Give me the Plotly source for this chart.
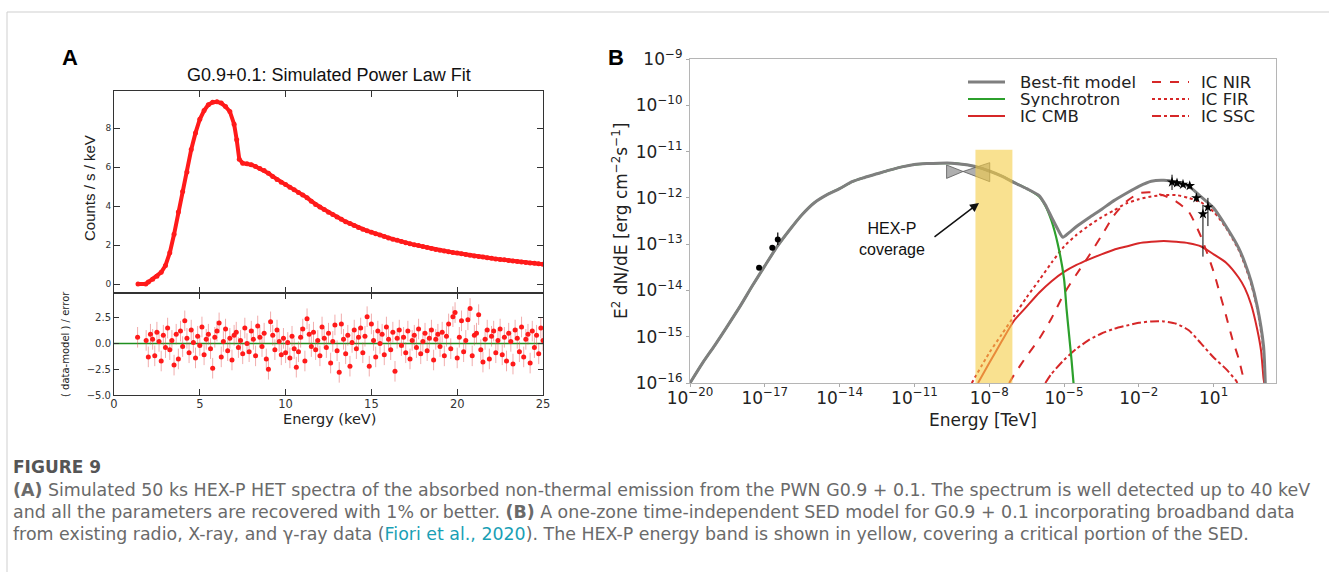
import numpy as np
import plotly.graph_objects as go

W, H = 1329, 572

# ---------------- Panel A : simulated spectrum ----------------
SPEC_E = [1.4, 1.85, 2.0, 2.25, 2.5, 2.75, 3.0, 3.25, 3.5, 3.75, 4.0, 4.25, 4.5, 4.75,
          5.0, 5.25, 5.5, 5.75, 6.0, 6.25, 6.5, 6.75, 7.0, 7.15, 7.3, 7.5, 7.75, 8.0,
          8.25, 8.5, 8.75, 9.0, 9.25, 9.5, 9.75, 10.0, 10.25, 10.5, 10.75, 11.0, 11.25,
          11.5, 11.75, 12.0, 12.25, 12.5, 12.75, 13.0, 13.25, 13.5, 13.75, 14.0, 14.25,
          14.5, 14.75, 15.0, 15.25, 15.5, 15.75, 16.0, 16.25, 16.5, 16.75, 17.0, 17.25,
          17.5, 17.75, 18.0, 18.25, 18.5, 18.75, 19.0, 19.25, 19.5, 19.75, 20.0, 20.25,
          20.5, 20.75, 21.0, 21.25, 21.5, 21.75, 22.0, 22.25, 22.5, 22.75, 23.0, 23.25,
          23.5, 23.75, 24.0, 24.25, 24.5, 24.75, 25.0]
SPEC_COUNTS = [0.0, 0.0, 0.1, 0.25, 0.4, 0.6, 0.95, 1.6, 2.55, 3.7, 4.75, 5.75, 6.9, 7.75,
               8.45, 8.9, 9.2, 9.32, 9.35, 9.28, 9.1, 8.85, 8.2, 7.4, 6.4, 6.2, 6.17, 6.12,
               6.03, 5.93, 5.82, 5.68, 5.52, 5.36, 5.22, 5.1, 4.97, 4.84, 4.7, 4.57, 4.43,
               4.25, 4.08, 3.95, 3.82, 3.68, 3.56, 3.44, 3.32, 3.2, 3.1, 3.0, 2.9,
               2.81, 2.73, 2.66, 2.58, 2.51, 2.44, 2.36, 2.3, 2.25, 2.18, 2.12, 2.06,
               2.01, 1.97, 1.92, 1.87, 1.82, 1.77, 1.73, 1.69, 1.66, 1.62, 1.59, 1.55,
               1.51, 1.47, 1.44, 1.41, 1.38, 1.35, 1.32, 1.29, 1.26, 1.24, 1.21, 1.18,
               1.16, 1.13, 1.1, 1.08, 1.06, 1.04, 1.02]

# residual channel grid (keV) and residual values (data-model)/error
RES_E_START = 1.375
RES_E_STEP = 0.125
RES_VALUES = [0.6, None, None, None,
              0.3, -1.3, 0.9, 0.4, -1.2, 1.1, 0.2, -1.7, 0.8, -0.4,
              1.5, -0.6, 0.3, -2.1, 0.9, -1.5, 1.2, -0.3, 2.2, 0.5,
              -0.9, 1.3, 0.1, -1.4, 0.7, -0.2, 1.6, -1.1, 0.4, 0.9,
              -0.5, -2.4, 0.6, 1.2, 2.0, -1.3, 0.2, 1.4, -0.7, 0.5,
              -1.6, 0.8, 1.1, -0.4, 0.3, -1.0, 1.5, 0.0, -0.8, 1.2,
              0.4, -1.2, 1.7, 0.6, -0.3, 1.0, -1.5, -2.5, 2.1, 0.8,
              -0.6, 1.3, 0.2, -1.1, 0.5, -0.9, 0.1, -1.4, 0.7, -0.5,
              -2.3, -0.8, 0.6, 1.4, -1.7, 2.4, 0.9, -0.3, 1.1, -0.6,
              0.3, -1.2, 1.6, 0.5, -0.4, 1.0, -1.9, 0.2, 1.8, -0.7,
              -2.8, 1.9, 0.4, -1.0, 0.8, -2.2, 0.1, 1.3, -0.5, 0.6,
              1.5, -0.9, 0.7, 2.6, -2.2, 1.9, 0.3, -1.3, 1.2, 0.0,
              0.9, -1.1, 1.6, 0.4, -0.6, 1.1, -2.7, 0.5, 1.3, -0.2,
              0.6, -0.9, 1.2, -1.5, 0.3, 0.8, -0.4, 1.4, -1.0, 0.2,
              1.0, -0.7, 0.5, 1.3, -1.6, 0.4, 0.9, -0.3, 1.1, -1.2,
              0.7, 1.9, -0.5, 2.6, 3.0, -1.4, 0.6, 2.2, -0.8, 0.3,
              2.3, 3.4, -1.2, 0.8, 1.0, 2.8, -0.6, -1.8, 0.4, 1.3,
              -1.5, 0.7, 1.2, -0.9, 0.3, 1.4, -1.1, 0.6, -1.7, 1.0,
              0.2, -2.0, 1.3, 0.5, -0.8, 1.6, -1.3, 0.4, 0.9, -1.9,
              1.2, -0.4, 0.8, -1.0, 1.5, 0.3]
RES_ERR = 1.0
RES_E = [RES_E_START + i * RES_E_STEP for i in range(len(RES_VALUES))]

A_X_TICKS = [0, 5, 10, 15, 20, 25]
A_Y_TICKS = [0, 2, 4, 6, 8]
R_Y_TICKS = [2.5, 0.0, -2.5, -5.0]
R_Y_TEXT = ["2.5", "0.0", "\u22122.5", "\u22125.0"]

# ---------------- Panel B : SED (log10 values) ----------------
BEST_LOGE = [-20, -19.5, -19, -18.5, -18, -17.5, -17, -16.5, -16, -15.5, -15, -14.5, -14,
             -13.5, -13, -12.5, -12, -11.5, -11, -10.5, -10, -9.5, -9, -8.5, -8, -7.5,
             -7, -6.5, -6, -5.75, -5.5, -5.25, -5.05, -4.8, -4.5, -4, -3.5, -3, -2.5,
             -2, -1.5, -1, -0.5, 0, 0.5, 1, 1.5, 2, 2.25, 2.5, 2.75, 3.0, 3.07]
BEST_LOGF = [-16.0, -15.57, -15.18, -14.77, -14.35, -13.9, -13.47, -13.05, -12.69, -12.36,
             -12.1, -11.93, -11.8, -11.65, -11.56, -11.48, -11.4, -11.33, -11.28, -11.26,
             -11.25, -11.25, -11.28, -11.33, -11.42, -11.53, -11.67, -11.8, -11.95, -12.15,
             -12.42, -12.68, -12.85, -12.75, -12.62, -12.43, -12.25, -12.06, -11.9, -11.75,
             -11.64, -11.62, -11.66, -11.75, -11.98, -12.22, -12.62, -13.08, -13.4, -13.8,
             -14.35, -15.2, -16.0]

SYN_LOGE = [-20, -19.5, -19, -18.5, -18, -17.5, -17, -16.5, -16, -15.5, -15, -14.5, -14,
            -13.5, -13, -12.5, -12, -11.5, -11, -10.5, -10, -9.5, -9, -8.5, -8, -7.5,
            -7, -6.5, -6, -5.75, -5.5, -5.25, -5.0, -4.9, -4.8, -4.7, -4.62]
SYN_LOGF = [-16.0, -15.57, -15.18, -14.77, -14.35, -13.9, -13.47, -13.05, -12.69, -12.36,
            -12.1, -11.93, -11.8, -11.65, -11.56, -11.48, -11.4, -11.33, -11.28, -11.26,
            -11.25, -11.25, -11.28, -11.33, -11.42, -11.53, -11.67, -11.8, -11.97, -12.17,
            -12.5, -13.0, -13.75, -14.4, -14.95, -15.5, -16.0]

CMB_LOGE = [-8.45, -8, -7.5, -7, -6.5, -6, -5.5, -5, -4.5, -4, -3.5, -3, -2.5, -2, -1.5,
            -1, -0.5, 0, 0.5, 1, 1.5, 2, 2.25, 2.5, 2.75, 2.9, 3.0, 3.03]
CMB_LOGF = [-16.0, -15.57, -15.1, -14.65, -14.35, -14.05, -13.8, -13.6, -13.45, -13.33,
            -13.22, -13.12, -13.05, -12.98, -12.95, -12.93, -12.95, -12.98, -13.05, -13.22,
            -13.4, -13.72, -13.95, -14.3, -14.85, -15.3, -15.9, -16.0]

NIR_LOGE = [-7.2, -7, -6.5, -6, -5.5, -5, -4.5, -4, -3.5, -3, -2.5, -2, -1.5, -1, -0.5,
            0, 0.5, 1.0, 1.25, 1.5, 1.75, 2.0, 2.24]
NIR_LOGF = [-16.0, -15.82, -15.42, -15.05, -14.6, -14.07, -13.65, -13.25, -12.82, -12.38,
            -12.08, -11.9, -11.88, -11.95, -12.08, -12.3, -12.85, -13.6, -14.07, -14.55,
            -15.05, -15.47, -16.0]

FIR_LOGE = [-8.7, -8, -7.5, -7, -6.5, -6, -5.5, -5, -4.5, -4, -3.5, -3, -2.5, -2, -1.5,
            -1, -0.5, 0, 0.5, 1.0, 1.5, 2.0, 2.25, 2.5, 2.75, 3.0, 3.05]
FIR_LOGF = [-16.0, -15.35, -14.95, -14.55, -14.15, -13.78, -13.4, -13.05, -12.8, -12.6,
            -12.42, -12.27, -12.12, -12.03, -11.97, -11.94, -11.94, -12.0, -12.1, -12.3,
            -12.65, -13.12, -13.45, -13.85, -14.4, -15.3, -16.0]

SSC_LOGE = [-5.75, -5.5, -5, -4.5, -4, -3.5, -3, -2.5, -2, -1.5, -1, -0.5, 0, 0.5, 1.0,
            1.5, 1.9, 1.95]
SSC_LOGF = [-16.0, -15.8, -15.5, -15.26, -15.07, -14.93, -14.83, -14.76, -14.7, -14.67,
            -14.67, -14.72, -14.86, -15.15, -15.45, -15.7, -15.95, -16.0]

RADIO_LOGE = [-17.23, -16.7, -16.48]
RADIO_LOGF = [-13.51, -13.08, -12.9]
RADIO_LOGF_HI = [-13.47, -13.03, -12.75]
RADIO_LOGF_LO = [-13.55, -13.13, -13.02]

GAMMA_LOGE = [-0.67, -0.47, -0.23, 0.04, 0.31, 0.57, 0.77]
GAMMA_LOGF = [-11.66, -11.68, -11.71, -11.74, -12.0, -12.35, -12.2]
GAMMA_LOGF_HI = [-11.5, -11.62, -11.66, -11.69, -11.93, -12.15, -12.0]
GAMMA_LOGF_LO = [-11.83, -11.75, -11.77, -11.8, -12.08, -13.27, -12.61]

# X-ray bowtie (log E edges, pivot; log flux at edges)
BOW_LOGE = [-9.71, -9.05, -7.98]
BOW_LOGF_LEFT = [-11.29, -11.58]
BOW_LOGF_PIVOT = -11.43
BOW_LOGF_RIGHT = [-11.24, -11.65]

HEXP_E = [2.8e-9, 8.5e-8]
HEXP_F = [1e-16, 1.1e-11]

B_X_TICKS = [-20, -17, -14, -11, -8, -5, -2, 1]
B_Y_TICKS = [-16, -15, -14, -13, -12, -11, -10, -9]

RED = "#d62728"
GREEN = "#2ca02c"
GRAY = "#7f7f7f"


def p10(a):
    return [10.0 ** v for v in a]


def px(x):
    return x / W


def py(y):
    return 1 - y / H


def sup_label(e):
    s = str(e).replace("-", "\u2212")
    return "10<sup>" + s + "</sup>"


fig = go.Figure()

# ---- Panel A traces ----
fig.add_trace(go.Scatter(x=SPEC_E, y=SPEC_COUNTS, mode="lines+markers",
                         line=dict(color="#ff1a1a", width=4),
                         marker=dict(color="#ff1a1a", size=5),
                         xaxis="x", yaxis="y", showlegend=False))

fig.add_trace(go.Scatter(x=[0, 25], y=[0, 0], mode="lines",
                         line=dict(color="#1f8f1f", width=1.5),
                         xaxis="x2", yaxis="y2", showlegend=False))
fig.add_trace(go.Scatter(x=RES_E, y=RES_VALUES, mode="markers",
                         marker=dict(color="#ff1a1a", size=5),
                         error_y=dict(type="constant", value=RES_ERR,
                                      color="rgba(225,70,70,0.45)", thickness=1, width=0),
                         xaxis="x2", yaxis="y2", showlegend=False))

# ---- Panel B traces ----
def add_line(loge, logf, color, dash, width):
    fig.add_trace(go.Scatter(x=p10(loge), y=p10(logf), mode="lines",
                             line=dict(color=color, dash=dash, width=width, shape="spline",
                                       smoothing=0.6),
                             xaxis="x3", yaxis="y3", showlegend=False))


add_line(SSC_LOGE, SSC_LOGF, RED, "dashdot", 2)
add_line(FIR_LOGE, FIR_LOGF, RED, "dot", 2)
add_line(NIR_LOGE, NIR_LOGF, RED, "dash", 2)
add_line(CMB_LOGE, CMB_LOGF, RED, "solid", 2)
add_line(SYN_LOGE, SYN_LOGF, GREEN, "solid", 2.2)
add_line(BEST_LOGE, BEST_LOGF, GRAY, "solid", 3)

# bowtie
bx = p10([BOW_LOGE[0], BOW_LOGE[1], BOW_LOGE[2], BOW_LOGE[2], BOW_LOGE[1], BOW_LOGE[0], BOW_LOGE[0]])
by = p10([BOW_LOGF_LEFT[0], BOW_LOGF_PIVOT, BOW_LOGF_RIGHT[0], BOW_LOGF_RIGHT[1],
          BOW_LOGF_PIVOT, BOW_LOGF_LEFT[1], BOW_LOGF_LEFT[0]])
fig.add_trace(go.Scatter(x=bx, y=by, mode="lines", fill="toself",
                         fillcolor="rgba(110,110,110,0.55)",
                         line=dict(color="rgba(90,90,90,0.8)", width=1),
                         xaxis="x3", yaxis="y3", showlegend=False))

# data points
rf = np.array(p10(RADIO_LOGF))
fig.add_trace(go.Scatter(x=p10(RADIO_LOGE), y=rf, mode="markers",
                         marker=dict(color="black", size=6),
                         error_y=dict(type="data", array=np.array(p10(RADIO_LOGF_HI)) - rf,
                                      arrayminus=rf - np.array(p10(RADIO_LOGF_LO)),
                                      color="black", thickness=1.2, width=0),
                         xaxis="x3", yaxis="y3", showlegend=False))
gf = np.array(p10(GAMMA_LOGF))
fig.add_trace(go.Scatter(x=p10(GAMMA_LOGE), y=gf, mode="markers",
                         marker=dict(color="black", size=8, symbol="star"),
                         error_y=dict(type="data", array=np.array(p10(GAMMA_LOGF_HI)) - gf,
                                      arrayminus=gf - np.array(p10(GAMMA_LOGF_LO)),
                                      color="black", thickness=1, width=0),
                         xaxis="x3", yaxis="y3", showlegend=False))

# HEX-P band (drawn on top, translucent)
fig.add_trace(go.Scatter(x=[HEXP_E[0], HEXP_E[1], HEXP_E[1], HEXP_E[0], HEXP_E[0]],
                         y=[HEXP_F[0], HEXP_F[0], HEXP_F[1], HEXP_F[1], HEXP_F[0]],
                         mode="lines", fill="toself", fillcolor="rgba(245,205,70,0.6)",
                         line=dict(width=0), hoverinfo="skip",
                         xaxis="x3", yaxis="y3", showlegend=False))

# ---- Axes ----
A_DOM = [px(114), px(543)]
tickfontA = dict(family="DejaVu Sans", size=9, color="#333")
common = dict(showgrid=False, zeroline=False, automargin=False)
fig.update_layout(
    xaxis=dict(domain=A_DOM, range=[0, 25], anchor="y", tickvals=A_X_TICKS,
               showticklabels=False, ticks="inside", ticklen=6, tickcolor="#333",
               showline=True, linecolor="#333", linewidth=1, mirror="ticks", **common),
    yaxis=dict(domain=[py(293), py(91)], range=[-0.46, 9.9], anchor="x",
               tickvals=A_Y_TICKS, tickfont=tickfontA, ticks="inside", ticklen=6,
               tickcolor="#333", showline=True, linecolor="#333", linewidth=1,
               mirror="ticks", **common),
    xaxis2=dict(domain=A_DOM, range=[0, 25], anchor="y2", tickvals=A_X_TICKS,
                tickfont=dict(family="DejaVu Sans", size=11.5, color="#333"),
                ticks="inside", ticklen=6, tickcolor="#333", ticklabelstandoff=-2,
                showline=True, linecolor="#333", linewidth=1, mirror="ticks", **common),
    yaxis2=dict(domain=[py(395), py(293)], range=[-5, 4.9], anchor="x2",
                tickvals=R_Y_TICKS, ticktext=R_Y_TEXT,
                tickfont=dict(family="DejaVu Sans", size=10, color="#333"),
                ticks="inside", ticklen=5, tickcolor="#333", showline=True,
                linecolor="#333", linewidth=1, mirror="ticks", **common),
    xaxis3=dict(domain=[px(690), px(1276)], type="log", range=[-20, 3.5], anchor="y3",
                tickvals=p10(B_X_TICKS), ticktext=[sup_label(v) for v in B_X_TICKS],
                tickfont=dict(family="DejaVu Sans", size=17, color="#222"),
                ticks="outside", ticklen=3, tickcolor="#aaa", ticklabelstandoff=-4,
                showline=True, linecolor="#b5b5b5", linewidth=1.2, mirror=True, **common),
    yaxis3=dict(domain=[py(383), py(59)], type="log", range=[-16, -9], anchor="x3",
                tickvals=p10(B_Y_TICKS), ticktext=[sup_label(v) for v in B_Y_TICKS],
                tickfont=dict(family="DejaVu Sans", size=17, color="#222"),
                ticks="outside", ticklen=3, tickcolor="#aaa",
                showline=True, linecolor="#b5b5b5", linewidth=1.2, mirror=True, **common),
)

# ---- Annotations (text) ----
ann = []


def text(x, y, s, size, family, color="#222", xanchor="center", angle=0, bold=False,
         height=None):
    if bold:
        s = "<b>" + s + "</b>"
    a = dict(x=px(x), y=py(y), xref="paper", yref="paper", text=s, showarrow=False,
             xanchor=xanchor, yanchor="middle", textangle=angle,
             font=dict(size=size, family=family, color=color))
    if height is not None:
        a["height"] = height
        a["borderpad"] = 0
    ann.append(a)


text(70, 57, "A", 22, "Liberation Sans", "#000", bold=True)
text(616, 57, "B", 22, "Liberation Sans", "#000", bold=True)
text(329, 75, "G0.9+0.1: Simulated Power Law Fit", 18, "Liberation Sans", "#111")
text(90, 188, "Counts / s / keV", 15, "Liberation Sans", "#222", angle=-90)
text(65, 344, "( data-model ) / error", 10, "DejaVu Sans", "#222", angle=-90)
text(329, 419, "Energy (keV)", 14.5, "DejaVu Sans", "#222")
text(620, 221, "E<sup>2</sup> dN/dE [erg cm<sup>\u22122</sup>s<sup>\u22121</sup>]", 17,
     "DejaVu Sans", "#222", angle=-90)
text(983, 420, "Energy [TeV]", 17, "DejaVu Sans", "#222")
text(892, 239, "HEX-P<br>coverage", 16, "Liberation Sans", "#111")

# arrow
ann.append(dict(x=px(979), y=py(203), xref="paper", yref="paper", text="", showarrow=True,
                ax=933 - 979, ay=238 - 203, arrowhead=2, arrowsize=1.2, arrowwidth=1.5,
                arrowcolor="#111"))

# legend (manual, two columns)
LEG = [("Best-fit model", GRAY, "solid", 3, 968, 1019, 82),
       ("Synchrotron", GREEN, "solid", 2.2, 968, 1019, 99),
       ("IC CMB", RED, "solid", 2, 968, 1019, 116),
       ("IC NIR", RED, "dash", 2, 1152, 1200, 82),
       ("IC FIR", RED, "dot", 2, 1152, 1200, 99),
       ("IC SSC", RED, "dashdot", 2, 1152, 1200, 116)]
shapes = []
for name, col, dash, wd, x0, tx, yy in LEG:
    shapes.append(dict(type="line", xref="paper", yref="paper", x0=px(x0), x1=px(x0 + 37),
                       y0=py(yy), y1=py(yy), line=dict(color=col, dash=dash, width=wd)))
    text(tx, yy, name, 16.5, "DejaVu Sans", "#222", xanchor="left", height=16)

# card border
shapes.append(dict(type="line", xref="paper", yref="paper", x0=px(7), x1=1, y0=py(12),
                   y1=py(12), line=dict(color="#cfcfcf", width=1)))
shapes.append(dict(type="line", xref="paper", yref="paper", x0=px(7), x1=px(7), y0=py(12),
                   y1=0, line=dict(color="#cfcfcf", width=1)))

# caption
CAP_COLOR = "#6a6a6a"
LINK = "#1a9fb5"
CAP_FONT = "DejaVu Sans"
CAP_SIZE = 17.4
text(11, 467, "FIGURE 9", 17, CAP_FONT, "#555", xanchor="left", bold=True)
text(11, 490, "<b>(A)</b> Simulated 50 ks HEX-P HET spectra of the absorbed non-thermal "
     "emission from the PWN G0.9 + 0.1. The spectrum is well detected up to 40 keV",
     CAP_SIZE, CAP_FONT, CAP_COLOR, xanchor="left")
text(11, 512, "and all the parameters are recovered with 1% or better. <b>(B)</b> A one-zone "
     "time-independent SED model for G0.9 + 0.1 incorporating broadband data",
     CAP_SIZE, CAP_FONT, CAP_COLOR, xanchor="left")
text(11, 534, "from existing radio, X-ray, and \u03b3-ray data (<span style='color:" + LINK +
     "'>Fiori et al., 2020</span>). The HEX-P energy band is shown in yellow, covering a "
     "critical portion of the SED.", CAP_SIZE, CAP_FONT, CAP_COLOR, xanchor="left")

fig.update_layout(width=W, height=H,
                  margin=dict(l=0, r=0, t=0, b=0, pad=0, autoexpand=False),
                  paper_bgcolor="white", plot_bgcolor="white", showlegend=False,
                  annotations=ann, shapes=shapes)

fig.write_html("out.html")
